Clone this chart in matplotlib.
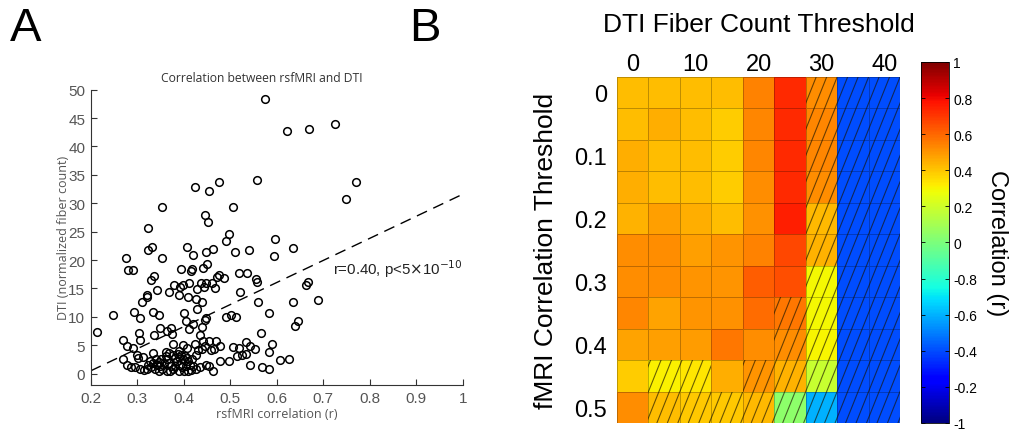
import numpy as np
import matplotlib
matplotlib.use('Agg')
import matplotlib.pyplot as plt
from matplotlib.collections import LineCollection
from matplotlib.patches import Rectangle

# panel A data: rsfMRI correlation vs DTI normalized fiber count
rsfmri_r = [0.575, 0.623, 0.669, 0.726, 0.771, 0.748, 0.558, 0.475, 0.424, 0.455,
            0.353, 0.505, 0.445, 0.452, 0.323, 0.497, 0.596, 0.491, 0.332, 0.323,
            0.406, 0.462, 0.634, 0.447, 0.510, 0.540, 0.421, 0.353, 0.595, 0.276,
            0.280, 0.290, 0.394, 0.417, 0.415, 0.442, 0.451, 0.518, 0.537, 0.556,
            0.336, 0.329, 0.475, 0.471, 0.486, 0.557, 0.668, 0.664, 0.379, 0.391,
            0.398, 0.411, 0.438, 0.447, 0.460, 0.443, 0.467, 0.428, 0.368, 0.343,
            0.389, 0.410, 0.427, 0.320, 0.320, 0.310, 0.520, 0.559, 0.636, 0.689,
            0.440, 0.428, 0.401, 0.248, 0.294, 0.306, 0.335, 0.346, 0.491, 0.501,
            0.513, 0.584, 0.448, 0.446, 0.405, 0.421, 0.439, 0.646, 0.640, 0.213,
            0.348, 0.372, 0.364, 0.412, 0.336, 0.375, 0.303, 0.567, 0.436, 0.305,
            0.269, 0.378, 0.441, 0.455, 0.470, 0.399, 0.407, 0.277, 0.290, 0.424,
            0.446, 0.477, 0.506, 0.518, 0.533, 0.543, 0.553, 0.590, 0.584, 0.430,
            0.440, 0.458, 0.466, 0.300, 0.335, 0.514, 0.525, 0.535, 0.427, 0.269,
            0.302, 0.313, 0.477, 0.498, 0.543, 0.607, 0.626, 0.569, 0.583, 0.464,
            0.277, 0.286, 0.295, 0.306, 0.315, 0.322, 0.329, 0.447, 0.454, 0.435,
            0.426, 0.416, 0.323, 0.333, 0.342, 0.350, 0.339, 0.346, 0.353, 0.358,
            0.363, 0.368, 0.373, 0.378, 0.382, 0.385, 0.389, 0.392, 0.396, 0.401,
            0.405, 0.409, 0.413, 0.418, 0.399, 0.394, 0.387, 0.368, 0.376, 0.361,
            0.351, 0.340, 0.346, 0.328, 0.362, 0.402, 0.389, 0.382, 0.363, 0.370,
            0.389, 0.409, 0.419, 0.407]
dti_count = [48.4, 42.8, 43.0, 44.0, 33.8, 30.7, 34.1, 33.7, 32.9, 32.1,
             29.3, 29.3, 28.0, 26.7, 25.6, 24.6, 23.7, 23.3, 22.3, 21.8,
             22.3, 22.0, 22.1, 21.5, 21.5, 21.8, 20.9, 20.3, 20.7, 20.3,
             18.3, 18.2, 18.5, 18.5, 18.1, 18.6, 19.3, 17.8, 17.7, 16.7,
             17.2, 16.5, 17.4, 17.1, 16.8, 16.2, 16.2, 15.6, 15.6, 15.3,
             15.6, 16.0, 15.9, 15.9, 16.0, 15.2, 15.0, 14.9, 14.4, 14.7,
             13.8, 13.5, 13.2, 13.9, 13.5, 12.7, 14.4, 12.7, 12.6, 13.0,
             12.6, 11.4, 10.7, 10.3, 10.9, 9.8, 10.8, 10.3, 9.9, 10.3,
             9.9, 10.6, 9.8, 9.5, 9.2, 8.7, 8.3, 9.3, 8.4, 7.4,
             8.0, 8.0, 7.5, 7.8, 6.8, 6.9, 7.1, 7.1, 6.8, 6.0,
             5.9, 5.3, 5.8, 5.8, 5.8, 5.0, 4.6, 4.8, 4.5, 5.2,
             4.8, 4.9, 4.7, 4.5, 5.5, 4.9, 4.3, 5.3, 3.9, 4.2,
             4.3, 4.1, 4.3, 3.3, 3.7, 3.1, 3.2, 3.5, 3.2, 2.6,
             2.7, 2.9, 2.2, 2.2, 1.6, 2.4, 2.6, 1.1, 0.9, 0.4,
             1.5, 1.1, 1.1, 0.8, 0.6, 0.8, 1.2, 1.6, 1.4, 1.2,
             0.8, 0.6, 1.6, 1.8, 1.6, 1.4, 0.8, 0.5, 0.9, 1.9,
             2.6, 1.9, 1.4, 0.8, 1.4, 2.2, 2.9, 1.6, 1.1, 0.5,
             1.4, 2.2, 1.6, 2.5, 2.5, 3.2, 3.4, 3.6, 3.2, 3.1,
             2.5, 2.6, 2.1, 2.2, 3.8, 3.1, 4.0, 2.8, 0.4, 0.5,
             0.5, 0.4, 1.4, 2.8]
fit_x = [0.2, 1.0]
fit_y = [0.5, 31.6]

# panel B data
fiber_thr = [0, 5, 10, 15, 20, 25, 30, 35, 40]
fmri_thr = [0, 0.05, 0.1, 0.15, 0.2, 0.25, 0.3, 0.35, 0.4, 0.45, 0.5]
corr_vals = np.array([
    [0.415, 0.415, 0.415, 0.415, 0.545, 0.730, 0.523, -0.6, -0.6],
    [0.415, 0.449, 0.415, 0.386, 0.534, 0.730, 0.534, -0.6, -0.6],
    [0.449, 0.415, 0.415, 0.386, 0.534, 0.730, 0.534, -0.6, -0.6],
    [0.449, 0.415, 0.415, 0.386, 0.523, 0.730, 0.523, -0.6, -0.6],
    [0.438, 0.481, 0.449, 0.415, 0.510, 0.757, 0.427, -0.6, -0.6],
    [0.523, 0.523, 0.481, 0.500, 0.545, 0.665, 0.438, -0.6, -0.6],
    [0.523, 0.523, 0.500, 0.500, 0.619, 0.650, 0.290, -0.6, -0.6],
    [0.534, 0.470, 0.500, 0.510, 0.587, 0.566, 0.290, -0.6, -0.6],
    [0.470, 0.481, 0.490, 0.566, 0.523, 0.523, 0.300, -0.6, -0.6],
    [0.386, 0.312, 0.333, 0.449, 0.500, 0.438, 0.185, -0.6, -0.6],
    [0.523, 0.415, 0.397, 0.397, 0.427, 0.040, -0.400, -0.6, -0.6]])
not_sig = np.array([
    [0, 0, 0, 0, 0, 0, 1, 1, 1],
    [0, 0, 0, 0, 0, 0, 1, 1, 1],
    [0, 0, 0, 0, 0, 0, 1, 1, 1],
    [0, 0, 0, 0, 0, 0, 1, 1, 1],
    [0, 0, 0, 0, 0, 0, 1, 1, 1],
    [0, 0, 0, 0, 0, 0, 1, 1, 1],
    [0, 0, 0, 0, 0, 0, 1, 1, 1],
    [0, 0, 0, 0, 0, 1, 1, 1, 1],
    [0, 0, 0, 0, 0, 1, 1, 1, 1],
    [0, 1, 1, 0, 1, 1, 1, 1, 1],
    [0, 1, 1, 1, 1, 1, 1, 1, 1]])
cbar_ticks = [1, 0.8, 0.6, 0.4, 0.2, 0, -0.2, -0.4, -0.6, -0.8, -1]
cbar_labels = ['1', '0.8', '0.6', '0.4', '0.2', '0', '-0.8', '-0.6', '-0.4', '-0.2', '-1']

plt.rcParams['font.family'] = ['Liberation Sans', 'DejaVu Sans']
gray = '#555555'

fig = plt.figure(figsize=(10.17, 4.35), dpi=100)

# A
ax = fig.add_axes([0.0892, 0.1126, 0.3658, 0.6789])
ax.plot(fit_x, fit_y, color='black', linewidth=1.0, dashes=(8, 5))
ax.plot(rsfmri_r, dti_count, linestyle='none', marker='o', markersize=5.5,
        markerfacecolor='none', markeredgecolor='black', markeredgewidth=1.1)
ax.set_xlim(0.2, 1)
ax.set_ylim(-2, 50)
ax.set_xticks([0.2, 0.3, 0.4, 0.5, 0.6, 0.7, 0.8, 0.9, 1])
ax.set_xticklabels(['0.2', '0.3', '0.4', '0.5', '0.6', '0.7', '0.8', '0.9', '1'])
ax.set_yticks(range(0, 51, 5))
ax.spines['top'].set_visible(False)
ax.spines['right'].set_visible(False)
ax.spines['left'].set_color('#333333')
ax.spines['bottom'].set_color('#333333')
ax.tick_params(direction='in', length=4, width=0.8, color='#333333',
               labelsize=11, labelcolor=gray, pad=4)
ax.set_xlabel('rsfMRI correlation (r)', fontsize=9, color=gray,
              family=['Open Sans', 'DejaVu Sans'], labelpad=2)
ax.set_ylabel('DTI (normalized fiber count)', fontsize=9, color=gray,
              family=['Open Sans', 'DejaVu Sans'], labelpad=-1)
ax.set_title('Correlation between rsfMRI and DTI', fontsize=8.7, color='#333333',
             family=['Open Sans', 'DejaVu Sans'], pad=6, x=0.46)
ax.text(0.72, 18.5, r'r=0.40, p<5$\times$10$^{-10}$', fontsize=10.8,
        color='#222222', va='center')

# B
ax2 = fig.add_axes([0.6067, 0.0253, 0.2783, 0.7954])
nr, nc = corr_vals.shape
mesh = ax2.pcolormesh(np.arange(nc + 1), np.arange(nr + 1), corr_vals, cmap='jet',
                      vmin=-1, vmax=1, edgecolors=(0, 0, 0, 0.25), linewidth=0.6)
ax2.set_xlim(0, nc)
ax2.set_ylim(nr, 0)

# hatch the non-significant cells with steep diagonal lines
slope = 0.4
step = 1 / 3
cs = np.arange(-1, nc + slope * nr + 1, step)
segs = [[(c, 0), (c - slope * nr, nr)] for c in cs]
for i in range(nr):
    for j in range(nc):
        if not_sig[i, j]:
            lc = LineCollection(segs, colors=(0.1, 0.08, 0.0, 0.65), linewidths=0.8)
            ax2.add_collection(lc)
            lc.set_clip_path(Rectangle((j, i), 1, 1, transform=ax2.transData))

ax2.xaxis.tick_top()
ax2.set_xticks(np.arange(0, nc, 2) + 0.5)
ax2.set_xticklabels([str(v) for v in fiber_thr[::2]])
ax2.set_yticks(np.arange(0, nr, 2) + 0.5)
ax2.set_yticklabels(['%g' % v for v in fmri_thr[::2]])
ax2.tick_params(length=0, labelsize=17, pad=7)
ax2.tick_params(axis='x', pad=1.5)
for s in ax2.spines.values():
    s.set_visible(False)
fig.text(0.746, 0.9425, 'DTI Fiber Count Threshold', fontsize=19, ha='center', va='center')
ax2.set_ylabel('fMRI Correlation Threshold', fontsize=19, labelpad=12)

cax = fig.add_axes([0.9056, 0.0253, 0.0275, 0.8299])
cb = fig.colorbar(mesh, cax=cax)
cb.set_ticks(cbar_ticks)
cb.set_ticklabels(cbar_labels)
cb.outline.set_linewidth(0.6)
cax.tick_params(direction='in', length=3, width=0.6, labelsize=10, left=True, right=True, pad=3)
cb.set_label('Correlation (r)', fontsize=17, rotation=270, labelpad=22)

fig.text(0.010, 0.985, 'A', fontsize=34, va='top', ha='left')
fig.text(0.402, 0.985, 'B', fontsize=34, va='top', ha='left')

plt.savefig('out.png', dpi=100)
